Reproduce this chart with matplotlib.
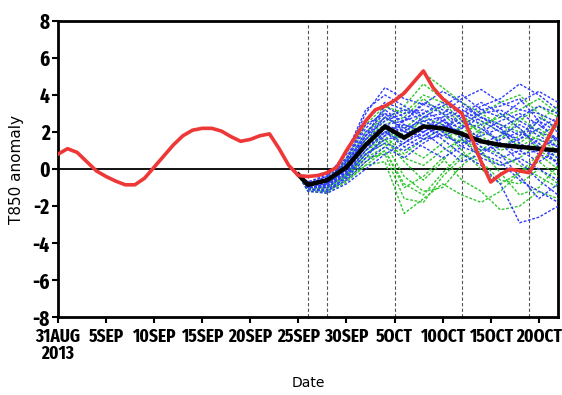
import matplotlib.pyplot as plt

# observed T850 anomaly (red), days since 31 Aug 2013
obs_days = list(range(0, 53))
obs_vals = [0.8, 1.1, 0.9, 0.4, -0.1, -0.4, -0.65, -0.85, -0.85, -0.5,
            0.1, 0.7, 1.3, 1.8, 2.1, 2.2, 2.2, 2.05, 1.75, 1.5,
            1.6, 1.8, 1.9, 1.1, 0.2, -0.35, -0.4, -0.35, -0.2, 0.1,
            1.0, 1.8, 2.6, 3.2, 3.4, 3.7, 4.1, 4.7, 5.3, 4.4,
            3.8, 3.4, 3.0, 1.7, 0.4, -0.7, -0.3, 0.0, -0.1, -0.2,
            0.7, 1.7, 2.7]

# ensemble forecast days
ens_days = [25, 26, 28, 30, 32, 34, 36, 38, 40, 42, 44, 46, 48, 50, 52]
ens_mean = [-0.3, -0.85, -0.6, 0.1, 1.3, 2.3, 1.7, 2.3, 2.2, 1.9, 1.5, 1.3, 1.2, 1.1, 1.0]

blue_members = [
    [-0.3, -0.8, -0.4, 0.8, 3.0, 4.4, 3.8, 3.5, 3.0, 3.8, 4.3, 3.6, 3.2, 3.0, 2.5],
    [-0.3, -0.9, -0.7, 0.3, 2.0, 3.0, 2.6, 3.5, 4.2, 3.6, 2.8, 2.2, 2.8, 3.4, 3.0],
    [-0.3, -1.0, -0.9, -0.2, 1.0, 2.0, 1.2, 1.8, 2.4, 2.0, 1.2, 0.6, 1.0, 1.6, 1.2],
    [-0.3, -0.7, -0.3, 0.6, 2.6, 3.6, 3.2, 2.6, 2.2, 2.8, 3.4, 3.8, 4.6, 4.0, 3.2],
    [-0.3, -0.9, -0.8, 0.0, 1.4, 2.4, 2.0, 2.8, 3.0, 2.4, 1.6, 0.8, -0.4, -1.6, -0.8],
    [-0.3, -1.1, -1.2, -0.6, 0.4, 1.2, 0.6, 1.4, 2.0, 2.6, 2.2, 1.4, 0.4, -0.6, -1.4],
    [-0.3, -0.8, -0.5, 0.5, 2.2, 3.2, 2.4, 2.0, 2.6, 3.2, 2.6, 2.0, 1.6, 2.2, 2.8],
    [-0.3, -1.0, -1.0, -0.3, 0.8, 1.6, 1.8, 2.4, 1.6, 0.8, 0.2, -0.8, -2.9, -2.6, -2.0],
    [-0.3, -0.9, -0.6, 0.4, 1.8, 2.6, 3.0, 3.2, 2.6, 1.8, 1.4, 1.8, 2.4, 1.8, 1.2],
    [-0.3, -1.2, -1.3, -0.8, 0.0, 0.8, 1.4, 2.0, 1.2, 0.4, 0.8, 1.6, 2.0, 1.4, 0.2],
    [-0.3, -0.8, -0.6, 0.2, 1.6, 2.8, 2.2, 1.6, 2.2, 3.0, 3.6, 3.0, 2.2, 1.2, 0.6],
    [-0.3, -1.0, -0.9, -0.1, 1.2, 2.2, 1.6, 1.2, 0.6, 1.2, 2.0, 2.6, 3.0, 2.4, 1.6],
    [-0.3, -0.7, -0.4, 0.9, 3.2, 4.0, 3.4, 2.8, 3.4, 4.0, 3.2, 2.8, 3.6, 4.2, 3.6],
    [-0.3, -1.1, -1.1, -0.5, 0.6, 1.8, 2.6, 3.0, 3.6, 3.0, 2.4, 1.4, 0.8, 1.0, 1.8],
    [-0.3, -0.9, -0.7, 0.1, 1.4, 2.0, 1.4, 2.2, 2.8, 1.6, 0.6, 0.2, 0.6, 0.0, -0.6],
    [-0.3, -1.0, -0.8, 0.0, 1.8, 3.4, 2.8, 2.4, 1.8, 2.2, 2.8, 2.4, 1.8, 2.8, 2.2],
    [-0.3, -0.9, -0.8, 0.2, 1.6, 2.4, 2.6, 3.6, 3.2, 2.8, 3.0, 3.2, 2.6, 2.0, 1.6],
    [-0.3, -1.0, -0.9, -0.1, 1.2, 1.8, 2.2, 2.6, 2.8, 3.4, 2.8, 2.2, 1.4, 0.8, 0.4],
    [-0.3, -0.8, -0.6, 0.5, 2.4, 3.0, 2.0, 1.8, 2.4, 1.8, 1.0, 1.2, 1.6, 2.6, 2.0],
    [-0.3, -1.1, -1.2, -0.4, 0.8, 1.4, 1.0, 1.6, 1.8, 1.4, 1.8, 2.2, 1.0, 0.4, 1.0],
    [-0.3, -0.9, -0.7, 0.3, 1.8, 2.8, 3.2, 3.0, 2.0, 1.2, 0.8, 0.4, -0.6, -1.2, -1.8],
    [-0.3, -1.0, -1.0, -0.2, 1.0, 2.0, 2.4, 2.0, 2.6, 2.2, 3.2, 3.4, 3.8, 2.6, 1.4],
]

green_members = [
    [-0.3, -1.1, -1.0, -0.4, 0.6, 0.8, -1.6, -1.8, -0.4, 0.6, 1.2, 0.8, 0.2, -0.4, -1.0],
    [-0.3, -1.2, -1.3, -0.7, 0.2, 0.4, -2.4, -1.6, -0.8, -1.4, -1.8, -1.2, -0.2, 0.4, -0.4],
    [-0.3, -0.9, -0.6, 0.3, 1.8, 3.2, 4.2, 5.2, 4.4, 3.6, 3.0, 2.4, 2.0, 1.6, 1.0],
    [-0.3, -1.0, -0.9, -0.2, 1.0, 1.6, 0.4, -0.6, 0.4, 1.8, 2.6, 2.0, 1.2, 1.8, 2.4],
    [-0.3, -1.1, -1.0, -0.3, 0.8, 1.4, -0.4, -1.2, -1.0, 0.2, 1.0, -0.2, -1.4, -1.0, 0.2],
    [-0.3, -0.8, -0.5, 0.6, 2.4, 3.4, 3.0, 4.0, 3.6, 2.6, 2.0, 1.6, 2.6, 3.4, 2.8],
    [-0.3, -1.0, -0.8, 0.0, 1.4, 2.2, 1.2, 0.6, 1.4, 2.4, 3.0, 3.6, 4.0, 3.0, 2.0],
    [-0.3, -1.2, -1.2, -0.6, 0.4, 1.0, -1.0, -0.4, 0.6, -0.6, -1.2, -2.2, -2.0, -1.2, -1.6],
    [-0.3, -0.9, -0.7, 0.2, 1.6, 2.6, 3.4, 4.6, 3.8, 3.0, 1.8, 1.0, 1.4, 2.2, 1.4],
    [-0.3, -1.0, -1.0, -0.3, 1.0, 1.8, 0.8, 1.6, 2.2, 1.0, 0.0, -0.8, -0.2, 0.8, 0.0],
    [-0.3, -1.1, -1.1, -0.5, 0.6, 1.2, 2.0, 2.6, 2.0, 1.4, 2.2, 3.0, 2.2, 1.0, 0.4],
    [-0.3, -0.8, -0.6, 0.4, 2.0, 2.8, 2.2, 3.0, 3.4, 2.4, 1.6, 1.2, 1.8, 2.6, 3.4],
    [-0.3, -1.0, -0.9, 0.0, 1.2, 2.0, 1.6, 2.8, 2.4, 1.6, 1.0, 1.8, 2.8, 2.0, 1.2],
    [-0.3, -1.1, -1.1, -0.4, 0.8, 1.6, 0.6, 0.2, 1.0, 1.6, 0.8, 0.2, 0.6, 1.4, 0.6],
    [-0.3, -0.9, -0.7, 0.2, 1.6, 2.4, 2.8, 3.8, 3.0, 2.0, 2.4, 2.8, 3.2, 3.8, 3.0],
    [-0.3, -1.2, -1.2, -0.6, 0.2, 1.0, -0.8, -1.4, -0.2, 0.8, 0.4, -0.6, -0.8, 0.0, -0.8],
]

init_days = [26, 28, 35, 42, 49]
tick_days = [0, 5, 10, 15, 20, 25, 30, 35, 40, 45, 50]
tick_labels = ['31AUG\n2013', '5SEP', '10SEP', '15SEP', '20SEP', '25SEP',
               '30SEP', '5OCT', '10OCT', '15OCT', '20OCT']
y_ticks = [-8, -6, -4, -2, 0, 2, 4, 6, 8]

x_font = {'family': ['Fira Sans Extra Condensed', 'DejaVu Sans'],
          'weight': 'bold', 'size': 13.5}
y_font = {'family': ['Fira Sans Extra Condensed', 'DejaVu Sans'],
          'weight': 'bold', 'size': 15}

fig = plt.figure(figsize=(5.62, 3.95), dpi=100)
ax = fig.add_axes([0.103, 0.197, 0.890, 0.750])

for d in init_days:
    ax.axvline(d, color='#555555', lw=0.8, ls=(0, (3, 2)), zorder=1)

ax.axhline(0, color='black', lw=1.3, zorder=2)

# ensemble members, greens under blues
for m in green_members:
    ax.plot(ens_days, m, color='#2ec82e', lw=1.0, ls=(0, (2, 1.2)), zorder=3)
for m in blue_members:
    ax.plot(ens_days, m, color='#2f3cff', lw=1.0, ls=(0, (2, 1.2)), zorder=4)

ax.plot(ens_days, ens_mean, color='black', lw=3.2, zorder=5)
ax.plot(obs_days, obs_vals, color='#ee3838', lw=2.6, zorder=6)

ax.set_xlim(0, 52)
ax.set_ylim(-8, 8)
ax.set_xticks(tick_days)
ax.set_xticklabels(tick_labels, fontdict=x_font, linespacing=0.9)
ax.set_yticks(y_ticks)
ax.set_yticklabels([str(v) for v in y_ticks], fontdict=y_font)
ax.tick_params(direction='out', length=4, width=1.5)
ax.tick_params(axis='x', pad=4)
ax.tick_params(axis='y', pad=2)

for s in ax.spines.values():
    s.set_linewidth(2)

ax.set_ylabel('T850 anomaly', fontsize=11, labelpad=6)
ax.set_xlabel('Date', fontsize=10, labelpad=10)

fig.savefig('out.png', dpi=100)
